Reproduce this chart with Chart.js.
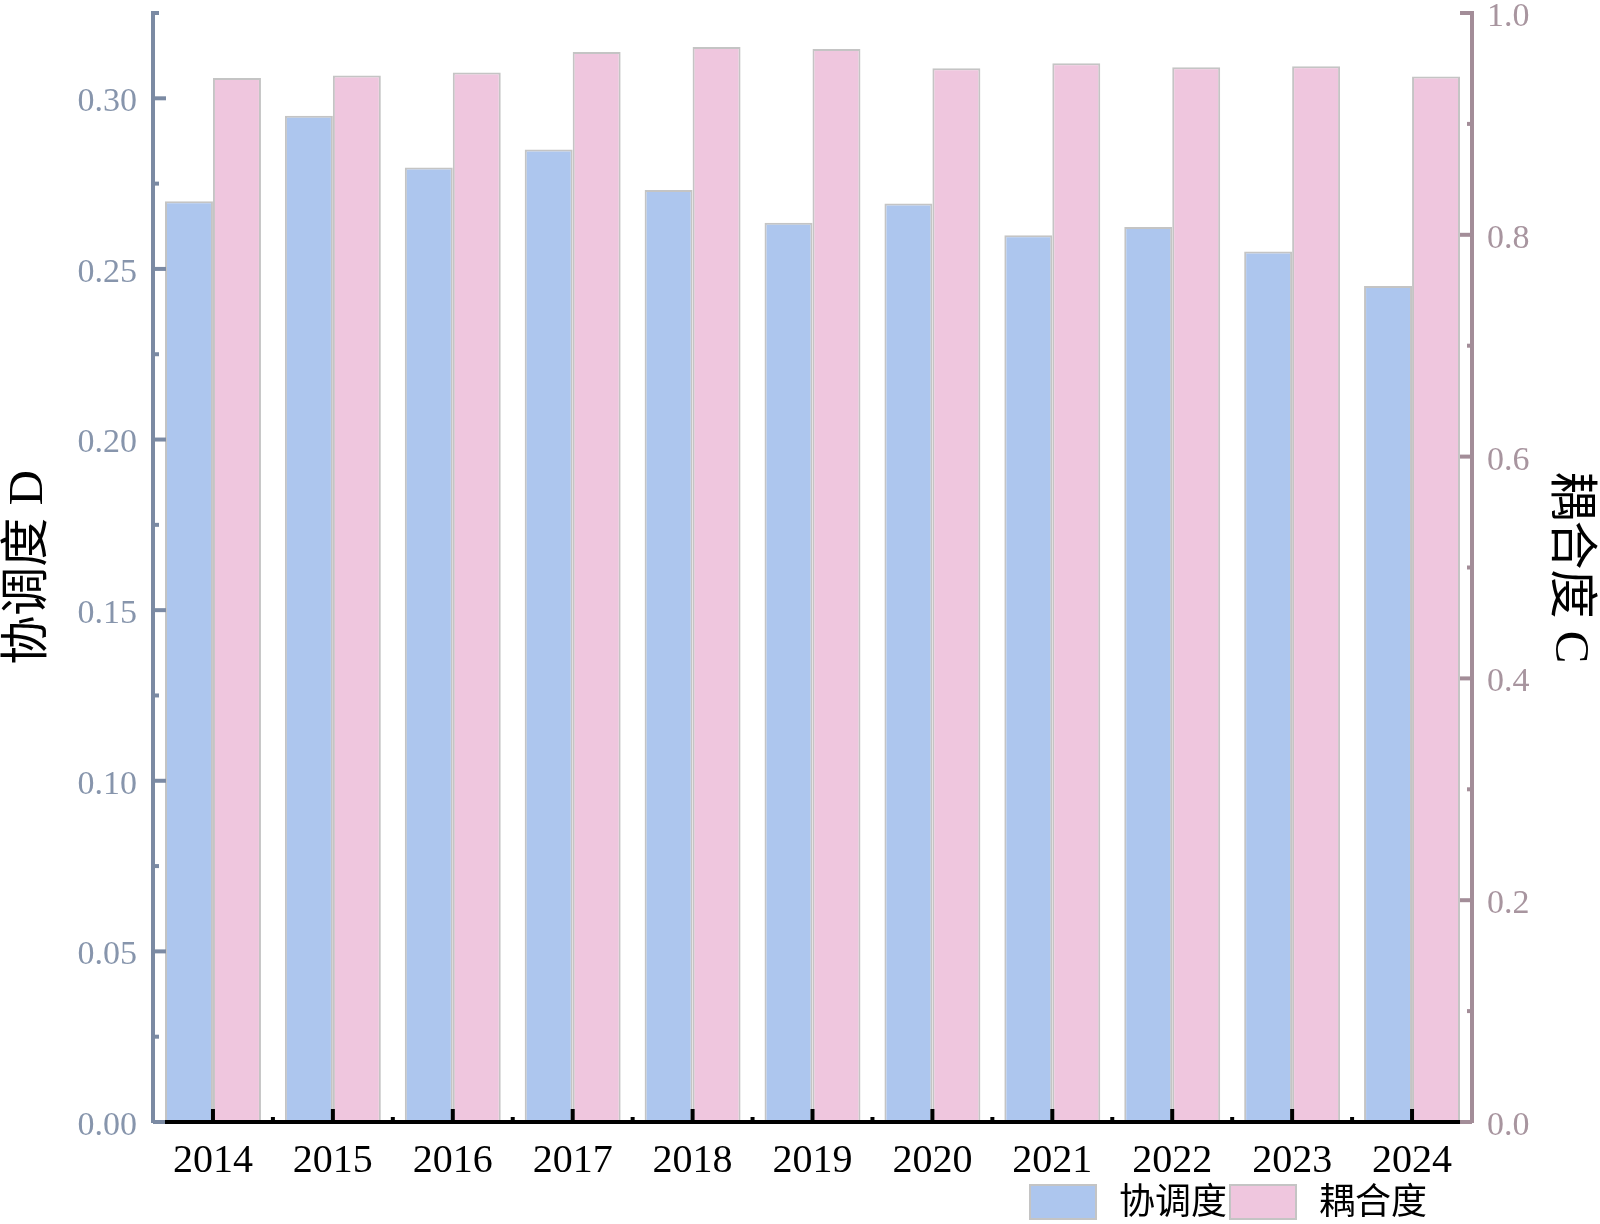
<!DOCTYPE html>
<html>
<head>
<meta charset="utf-8">
<script src="https://cdn.jsdelivr.net/npm/chart.js@4/dist/chart.umd.min.js"></script>
<style>
  html, body { margin: 0; padding: 0; background: #fff; }
  #wrap { position: relative; width: 1600px; height: 1224px; }
  #legend {
    position: absolute; left: 1029px; top: 1184px;
    display: flex; align-items: center;
    font-family: "Liberation Serif", "Noto Sans CJK SC", serif;
    font-size: 36px; line-height: 1; color: #000;
  }
  .box { width: 68px; height: 36px; box-sizing: border-box; border: 2px solid #c4c4c4; }
  .lbl { margin-left: 22px; margin-right: 2px; }
</style>
</head>
<body>
<div id="wrap">
  <canvas id="chart" width="1600" height="1224"></canvas>
  <div id="legend"></div>
</div>
<script>
const years = ["2014", "2015", "2016", "2017", "2018", "2019", "2020", "2021", "2022", "2023", "2024"];
const coordD = [0.2698, 0.2949, 0.2797, 0.2850, 0.2731, 0.2635, 0.2692, 0.2599, 0.2623, 0.2551, 0.2450];
const couplingC = [0.9415, 0.9437, 0.9464, 0.9648, 0.9694, 0.9675, 0.9501, 0.9547, 0.9511, 0.9519, 0.9427];

const seriesNames = ["协调度", "耦合度"];
const seriesColors = ["#adc6ee", "#efc6de"];

const FONT = '"Liberation Serif", "Noto Sans CJK SC", serif';
const leftColor = "#7b8aa3";
const leftLabel = "#8795ac";
const rightColor = "#a38d98";
const rightLabel = "#a8959f";

// inward tick marks + bottom axis line
const axisTicks = {
    id: 'axisTicks',
    afterDraw(chart) {
        const ctx = chart.ctx;
        const { left, right } = chart.chartArea;
        const y = chart.scales.y, y1 = chart.scales.y1, x = chart.scales.x;
        ctx.save();
        ctx.lineWidth = 4;
        ctx.lineCap = 'butt';

        ctx.strokeStyle = leftColor;
        for (let i = 0; i <= 13; i++) {
            const py = y.getPixelForValue(i * 0.025);
            const len = i % 2 === 0 ? 13 : 6;
            ctx.beginPath(); ctx.moveTo(left, py); ctx.lineTo(left + len, py); ctx.stroke();
        }

        ctx.strokeStyle = rightColor;
        for (let i = 0; i <= 10; i++) {
            const py = y1.getPixelForValue(i * 0.1);
            const len = i % 2 === 0 ? 12 : 5;
            ctx.beginPath(); ctx.moveTo(right, py); ctx.lineTo(right - len, py); ctx.stroke();
        }

        const cw = x.getPixelForValue(1) - x.getPixelForValue(0);
        const by = x.top;
        ctx.strokeStyle = '#000';
        ctx.beginPath();
        ctx.moveTo(x.getPixelForValue(0) - cw * 0.4, by);
        ctx.lineTo(x.getPixelForValue(years.length - 1) + cw * 0.4, by);
        ctx.stroke();
        for (let i = 0; i < years.length; i++) {
            const px = x.getPixelForValue(i);
            ctx.beginPath(); ctx.moveTo(px, by); ctx.lineTo(px, by - 13); ctx.stroke();
            if (i < years.length - 1) {
                const mx = px + cw / 2;
                ctx.beginPath(); ctx.moveTo(mx, by); ctx.lineTo(mx, by - 5); ctx.stroke();
            }
        }
        ctx.restore();
    }
};

const ctx = document.getElementById("chart").getContext("2d");

new Chart(ctx, {
    type: 'bar',
    data: {
        labels: years,
        datasets: [{
            label: seriesNames[0],
            data: coordD,
            yAxisID: 'y',
            backgroundColor: seriesColors[0],
            borderColor: '#c4c4c4',
            borderWidth: 2
        }, {
            label: seriesNames[1],
            data: couplingC,
            yAxisID: 'y1',
            backgroundColor: seriesColors[1],
            borderColor: '#c4c4c4',
            borderWidth: 2
        }]
    },
    options: {
        responsive: false,
        animation: false,
        categoryPercentage: 0.8,
        barPercentage: 1.0,
        layout: { padding: { top: 13, left: 0, right: 0, bottom: 0 } },
        plugins: {
            legend: { display: false },
            tooltip: { enabled: false }
        },
        scales: {
            x: {
                grid: { display: false, drawTicks: false },
                border: { display: false },
                ticks: {
                    color: '#000',
                    font: { family: FONT, size: 40 },
                    padding: 15,
                    maxRotation: 0
                },
                afterFit(scale) { scale.height = 102; scale.paddingLeft = 0; scale.paddingRight = 0; }
            },
            y: {
                position: 'left',
                min: 0,
                max: 0.325,
                grid: { display: false, drawTicks: false },
                border: { display: true, color: leftColor, width: 4 },
                ticks: {
                    stepSize: 0.05,
                    includeBounds: false,
                    color: leftLabel,
                    font: { family: FONT, size: 34 },
                    padding: 16,
                    labelOffset: 4,
                    callback: v => v.toFixed(2)
                },
                title: {
                    display: true,
                    text: '协调度 D',
                    color: '#000',
                    font: { family: FONT, size: 49 },
                    padding: { top: 0, bottom: 0 }
                },
                afterFit(scale) { scale.width = 153; scale.paddingTop = 0; scale.paddingBottom = 0; }
            },
            y1: {
                position: 'right',
                min: 0,
                max: 1,
                grid: { display: false, drawTicks: false },
                border: { display: true, color: rightColor, width: 4 },
                ticks: {
                    stepSize: 0.2,
                    color: rightLabel,
                    font: { family: FONT, size: 34 },
                    padding: 15,
                    labelOffset: 4,
                    callback: v => v.toFixed(1)
                },
                title: {
                    display: true,
                    text: '耦合度 C',
                    color: '#000',
                    font: { family: FONT, size: 49 },
                    padding: { top: 2, bottom: 0 }
                },
                afterFit(scale) { scale.width = 128; scale.paddingTop = 0; scale.paddingBottom = 0; }
            }
        }
    },
    plugins: [axisTicks]
});

// legend below the plot, right of centre like the original
const legend = document.getElementById("legend");
seriesNames.forEach((name, i) => {
    const b = document.createElement("div");
    b.className = "box";
    b.style.background = seriesColors[i];
    const t = document.createElement("span");
    t.className = "lbl";
    t.textContent = name;
    legend.appendChild(b);
    legend.appendChild(t);
});
</script>
</body>
</html>
